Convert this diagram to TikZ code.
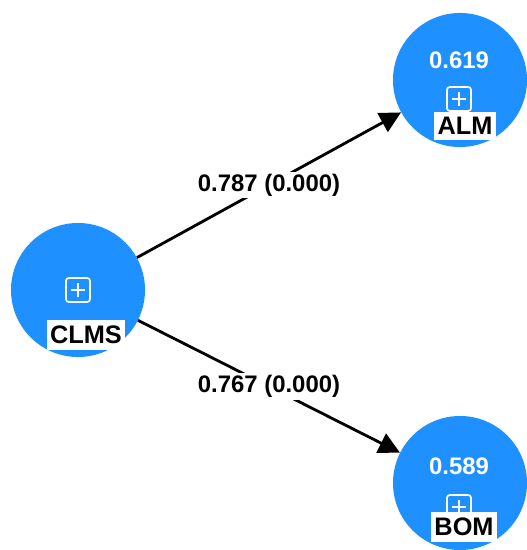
\documentclass[tikz,border=0pt]{standalone}
\usepackage{fontspec}
\setmainfont{Liberation Sans}
\usetikzlibrary{arrows.meta}

\definecolor{plsblue}{RGB}{30,144,255}

\tikzset{
  construct/.style={circle, fill=plsblue, draw=none, minimum size=3.35cm, inner sep=0pt},
  rsq/.style={text=white, font=\bfseries\fontsize{17}{20}\selectfont},
  tag/.style={fill=white, text=black, inner xsep=2.5pt, inner ysep=4pt, font=\bfseries\fontsize{18}{20}\selectfont},
  icon/.style={draw=white, line width=1.2pt, rounded corners=2pt, minimum size=0.6cm, inner sep=0pt,
    path picture={\draw[white, line width=1.2pt]
      ([yshift=0.17cm]path picture bounding box.center) -- ([yshift=-0.17cm]path picture bounding box.center)
      ([xshift=-0.17cm]path picture bounding box.center) -- ([xshift=0.17cm]path picture bounding box.center);}},
  relation/.style={line width=2pt, -{Triangle[length=15pt,width=15pt]}},
  coef/.style={fill=white, inner sep=1.5pt, font=\bfseries\fontsize{17}{20}\selectfont}
}

\begin{document}
\begin{tikzpicture}[x=0.025cm, y=-0.025cm]
  %\draw[help lines] (0,0) grid (526,550);
  \useasboundingbox (0,0) rectangle (526,550);

  % constructs
  \node[construct] (clms) at (78,290) {};
  \node[construct] (alm) at (460,80) {};
  \node[construct] (bom) at (460,483) {};

  % r-square values
  \node[rsq] (alm-val) at (459,60) {0.619};
  \node[rsq] (bom-val) at (459,466) {0.589};

  % icons and labels
  \node[icon] (clms-icon) at (78,290) {};
  \node[icon] (alm-icon) at (459,99) {};
  \node[icon] (bom-icon) at (459,507) {};

  \node[tag] (clms-tag) at (86,335) {CLMS};
  \node[tag] (alm-tag) at (465,126) {ALM};
  \node[tag] (bom-tag) at (464,527) {BOM};

  % paths
  \draw[relation] (clms) -- node[coef] {0.787 (0.000)} (alm);
  \draw[relation] (clms) -- node[coef] {0.767 (0.000)} (bom);
\end{tikzpicture}
\end{document}
